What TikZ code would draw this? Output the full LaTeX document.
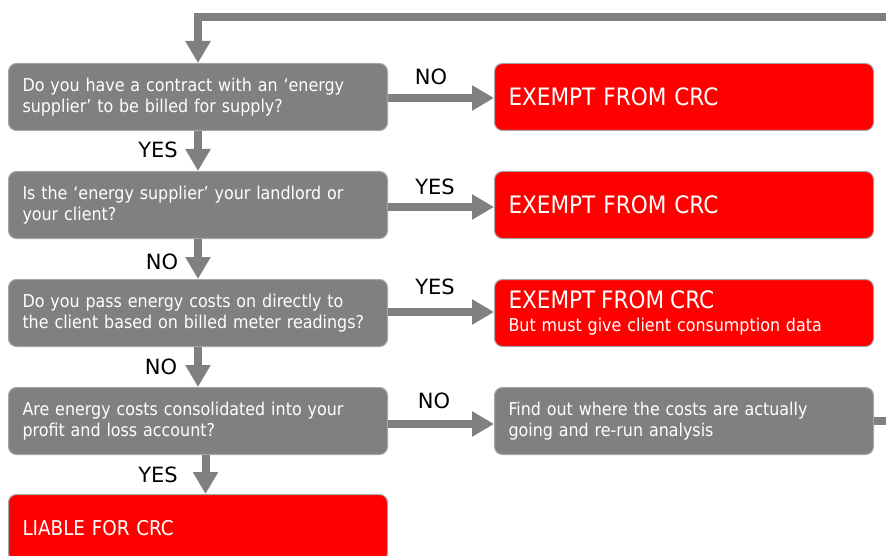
\documentclass[tikz,border=0pt]{standalone}
\usepackage{fontspec}
\setmainfont{DejaVu Sans Condensed}
\newfontfamily\lblfont{DejaVu Sans}
\usetikzlibrary{arrows.meta}
\definecolor{boxgray}{HTML}{808080}
\definecolor{edgegray}{HTML}{A6A6A6}
\definecolor{boxred}{HTML}{FF0000}
\begin{document}
\begin{tikzpicture}[x=1pt,y=-1pt,
  box/.style={draw=edgegray, line width=1pt, rounded corners=8pt,
    minimum width=379pt, minimum height=67pt, text width=351pt,
    inner xsep=14pt, inner ysep=0pt, align=left, text=white,
    font=\fontsize{17.7}{21}\selectfont, anchor=north west},
  qbox/.style={box, fill=boxgray},
  rbox/.style={box, fill=boxred},
  big/.style={font=\fontsize{24}{26}\selectfont},
  flow/.style={draw=boxgray, line width=8pt, -{Triangle[width=24pt,length=22pt]}},
  plain/.style={draw=boxgray, line width=8pt},
  lbl/.style={font=\lblfont\fontsize{21}{24}\selectfont, text=black, inner sep=0pt}
]
\useasboundingbox (0,0) rectangle (886,556);
\node[qbox] (q1) at (8,63) {Do you have a contract with an ‘energy\\supplier’ to be billed for supply?};
\node[qbox] (q2) at (8,171) {Is the ‘energy supplier’ your landlord or\\your client?};
\node[qbox] (q3) at (8,279) {\mbox{Do you pass energy costs on directly to}\\\mbox{the client based on billed meter readings?}};
\node[qbox] (q4) at (8,387) {Are energy costs consolidated into your\\profit and loss account?};
\node[rbox, big] (r1) at (494,63) {EXEMPT FROM CRC};
\node[rbox, big] (r2) at (494,171) {EXEMPT FROM CRC};
\node[rbox, font=\fontsize{17.7}{23}\selectfont] (r3) at (494,279) {{\fontsize{24}{23}\selectfont EXEMPT FROM CRC}\\But must give client consumption data};
\node[qbox] (g5) at (494,387) {Find out where the costs are actually\\going and re-run analysis};
\node[rbox, font=\fontsize{20.4}{24}\selectfont] (r4) at (8,494) {LIABLE FOR CRC};
% connectors
\coordinate (exitR) at (886,421);
\coordinate (topR) at (886,17);
\coordinate (topL) at (198,17);
\coordinate (row1) at (0,98);
\coordinate (row2) at (0,207);
\coordinate (row3) at (0,312);
\coordinate (row4) at (0,424);
\coordinate (colA) at (198,0);
\coordinate (colB) at (205.5,0);
\draw[plain] (g5.east |- exitR) -- (exitR);
\draw[flow] (topR) -- (topL) -- (topL |- q1.north);
\draw[flow] (q1.east |- row1) -- (r1.west |- row1);
\draw[flow] (q2.east |- row2) -- (r2.west |- row2);
\draw[flow] (q3.east |- row3) -- (r3.west |- row3);
\draw[flow] (q4.east |- row4) -- (g5.west |- row4);
\draw[flow] (colA |- q1.south) -- (colA |- q2.north);
\draw[flow] (colA |- q2.south) -- (colA |- q3.north);
\draw[flow] (colA |- q3.south) -- (colA |- q4.north);
\draw[flow] (colB |- q4.south) -- (colB |- r4.north);
% labels
\node[lbl] (n1) at (431,77) {NO};
\node[lbl] (y1) at (158,150) {YES};
\node[lbl] (y2) at (435,187) {YES};
\node[lbl] (n2) at (162,262) {NO};
\node[lbl] (y3) at (435,287) {YES};
\node[lbl] (n3) at (161,367) {NO};
\node[lbl] (n4) at (434,401) {NO};
\node[lbl] (y4) at (158,475) {YES};
\end{tikzpicture}
\end{document}
